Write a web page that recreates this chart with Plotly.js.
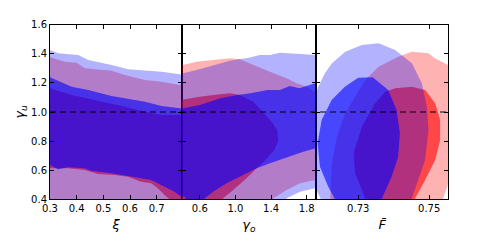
<!DOCTYPE html>
<html>
<head>
<meta charset="utf-8">
<script src="https://cdn.plot.ly/plotly-3.0.1.min.js"></script>
<style>html,body{margin:0;padding:0;background:#fff;}#chart{width:498px;height:249px;}</style>
</head>
<body>
<div id="chart"></div>
<script>
// ---- Panel 1: xi vs gamma_u ----
const p1RedOuterX = [0.28,0.3,0.3562,0.4,0.4311,0.5311,0.5809,0.6558,0.7183,0.7869,0.81,0.81,0.28];
const p1RedOuterY = [1.38,1.376,1.346,1.339,1.30,1.284,1.254,1.22,1.208,1.186,1.18,0.3,0.3];
const p1RedInnerX = [0.28,0.3,0.3813,0.4685,0.5809,0.6558,0.7183,0.7869,0.81,0.81,0.7483,0.7296,0.7045,0.6794,0.6419,0.5921,0.5423,0.4798,0.430,0.3674,0.3,0.28];
const p1RedInnerY = [1.17,1.163,1.117,1.083,1.036,1.002,0.979,0.979,0.979,0.38,0.40,0.43,0.476,0.51,0.521,0.555,0.567,0.574,0.601,0.613,0.613,0.613];
const p1BlueOuterX = [0.28,0.3,0.331,0.406,0.4434,0.5311,0.5933,0.7183,0.7869,0.81,0.81,0.28];
const p1BlueOuterY = [1.43,1.426,1.403,1.392,1.357,1.323,1.293,1.277,1.259,1.252,0.3,0.3];
const p1BlueInnerX = [0.28,0.3,0.3813,0.4434,0.5311,0.6307,0.6558,0.7183,0.7869,0.81,0.81,0.7918,0.767,0.7296,0.6794,0.6419,0.5921,0.5172,0.4547,0.430,0.3674,0.330,0.3,0.28];
const p1BlueInnerY = [1.25,1.238,1.174,1.151,1.11,1.082,1.071,1.041,1.025,1.02,0.40,0.418,0.452,0.487,0.533,0.544,0.56,0.583,0.597,0.613,0.62,0.606,0.636,0.64];

// ---- Panel 2: gamma_o vs gamma_u ----
const p2RedOuterX = [0.35,0.412,0.563,0.75,0.938,1.05,1.2,1.388,1.575,1.688,1.8,1.95,1.95,1.894,1.725,1.575,1.425,1.38,0.35];
const p2RedOuterY = [1.32,1.323,1.346,1.357,1.369,1.362,1.323,1.277,1.232,1.197,1.174,1.12,0.53,0.533,0.51,0.464,0.407,0.35,0.35];
const p2RedInnerX = [0.35,0.412,0.563,0.75,0.938,1.05,1.2,1.29,1.41,1.47,1.48,1.44,1.33,1.238,1.125,0.975,0.862,0.83,0.35];
const p2RedInnerY = [1.08,1.087,1.101,1.117,1.129,1.117,1.071,1.01,0.93,0.875,0.8,0.74,0.665,0.613,0.544,0.464,0.407,0.35,0.35];
const p2BlueOuterX = [0.35,0.412,0.563,0.75,0.938,1.05,1.125,1.275,1.388,1.5,1.688,1.894,1.95,1.95,1.894,1.725,1.575,1.54,0.35];
const p2BlueOuterY = [1.25,1.266,1.289,1.323,1.353,1.365,1.369,1.392,1.392,1.408,1.399,1.392,1.39,0.47,0.476,0.452,0.407,0.35,0.35];
const p2BlueInnerX = [0.35,0.412,0.6,0.83,1.02,1.17,1.36,1.5,1.61,1.72,1.894,1.95,1.95,1.894,1.762,1.613,1.388,1.238,1.05,0.9,0.75,0.656,0.6,0.46,0.43,0.35];
const p2BlueInnerY = [1.02,1.025,1.048,1.094,1.117,1.129,1.151,1.151,1.179,1.163,1.197,1.2,0.75,0.75,0.727,0.693,0.647,0.613,0.555,0.51,0.452,0.407,0.37,0.37,0.418,0.43];

// ---- Panel 3: F-bar vs gamma_u ----
const p3RedOuterX = [0.72634,0.7240,0.72259,0.72211,0.7226,0.753,0.75386,0.75527,0.7564,0.7564,0.75535,0.7516,0.74983,0.74513,0.74127,0.73575,0.73197];
const p3RedOuterY = [0.991,0.830,0.647,0.407,0.29,0.29,0.40,0.498,0.74,1.08,1.323,1.369,1.403,1.414,1.38,1.311,1.22];
const p3RedInnerX = [0.74513,0.74042,0.73761,0.73479,0.73104,0.7287,0.72915,0.73197,0.7339,0.745,0.74606,0.74887,0.75169,0.7531,0.7531,0.75169,0.74887];
const p3RedInnerY = [1.174,1.163,1.14,1.06,0.899,0.716,0.579,0.407,0.29,0.3,0.407,0.533,0.67,0.808,0.945,1.06,1.151];
const p3BlueOuterX = [0.7165,0.71873,0.7206,0.72259,0.72634,0.73104,0.73575,0.74042,0.74513,0.74794,0.74935,0.74983,0.74887,0.74701,0.74513,0.744,0.7333,0.7234,0.7205,0.7185,0.7165,0.716];
const p3BlueOuterY = [1.0,1.174,1.266,1.335,1.414,1.46,1.472,1.426,1.335,1.197,1.036,0.876,0.670,0.534,0.407,0.29,0.26,0.29,0.35,0.45,0.6,0.8];
const p3BlueInnerX = [0.73,0.7341,0.73845,0.74082,0.74175,0.74127,0.73941,0.73659,0.7335,0.7245,0.72344,0.72155,0.71921,0.71856,0.71969,0.72251,0.72625];
const p3BlueInnerY = [1.236,1.238,1.151,1.014,0.854,0.693,0.555,0.40,0.3,0.32,0.40,0.487,0.624,0.785,0.945,1.083,1.174];

// ---- ticks & reference ----
const yTickVals = [0.4,0.6,0.8,1.0,1.2,1.4,1.6];
const yTickText = ['0.4','0.6','0.8','1.0','1.2','1.4','1.6'];
const x1TickVals = [0.3,0.4,0.5,0.6,0.7];
const x1TickText = ['0.3','0.4','0.5','0.6','0.7'];
const x2TickVals = [0.6,1.0,1.4,1.8];
const x2TickText = ['0.6','1.0','1.4','1.8'];
const x3TickVals = [0.73,0.75];
const x3TickText = ['0.73','0.75'];
const refLineY = 1.0;

const RED_OUT = 'rgba(255,0,0,0.3)', RED_IN = 'rgba(255,0,0,0.6)';
const BLUE_OUT = 'rgba(0,0,255,0.3)', BLUE_IN = 'rgba(0,0,255,0.6)';

function poly(x, y, color, xa, ya) {
  return {x: x, y: y, xaxis: xa, yaxis: ya, type: 'scatter', mode: 'lines',
          fill: 'toself', fillcolor: color, line: {width: 0, color: color},
          hoverinfo: 'skip', showlegend: false};
}
const traces = [
  poly(p1RedOuterX, p1RedOuterY, RED_OUT, 'x', 'y'),
  poly(p1RedInnerX, p1RedInnerY, RED_IN, 'x', 'y'),
  poly(p1BlueOuterX, p1BlueOuterY, BLUE_OUT, 'x', 'y'),
  poly(p1BlueInnerX, p1BlueInnerY, BLUE_IN, 'x', 'y'),
  poly(p2RedOuterX, p2RedOuterY, RED_OUT, 'x2', 'y2'),
  poly(p2RedInnerX, p2RedInnerY, RED_IN, 'x2', 'y2'),
  poly(p2BlueOuterX, p2BlueOuterY, BLUE_OUT, 'x2', 'y2'),
  poly(p2BlueInnerX, p2BlueInnerY, BLUE_IN, 'x2', 'y2'),
  poly(p3RedOuterX, p3RedOuterY, RED_OUT, 'x3', 'y3'),
  poly(p3RedInnerX, p3RedInnerY, RED_IN, 'x3', 'y3'),
  poly(p3BlueOuterX, p3BlueOuterY, BLUE_OUT, 'x3', 'y3'),
  poly(p3BlueInnerX, p3BlueInnerY, BLUE_IN, 'x3', 'y3')
];

const W = 498, H = 249;
const yDom = [(H - 199.3) / H, (H - 24.7) / H];
const tickFont = {family: 'DejaVu Sans', size: 10, color: '#000'};
const titleFont = {family: 'DejaVu Sans', size: 13, color: '#000'};
function xax(dom, range, tv, tt, title, anchor) {
  return {domain: dom, range: range, tickvals: tv, ticktext: tt, anchor: anchor,
    ticks: 'inside', ticklen: 4, tickwidth: 1, tickcolor: '#000',
    showline: true, linecolor: '#000', linewidth: 1, mirror: 'ticks',
    showgrid: false, zeroline: false, tickfont: tickFont, fixedrange: true,
    title: {text: title, font: titleFont, standoff: 6}};
}
function yax(anchor, showLabels, title) {
  const ax = {domain: yDom, range: [0.4, 1.6], tickvals: yTickVals, ticktext: yTickText, anchor: anchor,
    ticks: 'inside', ticklen: 4, tickwidth: 1, tickcolor: '#000',
    showline: true, linecolor: '#000', linewidth: 1, mirror: 'ticks',
    showgrid: false, zeroline: false, tickfont: tickFont, showticklabels: showLabels,
    fixedrange: true};
  if (title) ax.title = {text: title, font: titleFont, standoff: 3};
  return ax;
}

const layout = {
  width: W, height: H,
  margin: {l: 0, r: 0, t: 0, b: 0, autoexpand: false},
  paper_bgcolor: '#fff', plot_bgcolor: 'rgba(0,0,0,0)',
  showlegend: false,
  xaxis: xax([50 / W, 182 / W], [0.3, 0.795], x1TickVals, x1TickText, '<i>ξ</i>', 'y'),
  xaxis2: xax([182 / W, 316 / W], [0.4, 1.905], x2TickVals, x2TickText, '<i>γ</i><sub><i>o</i></sub>', 'y2'),
  xaxis3: xax([316 / W, 448.3 / W], [0.7181, 0.7554], x3TickVals, x3TickText, '<i>F\u0304</i>', 'y3'),
  yaxis: yax('x', true, '<i>γ</i><sub><i>u</i></sub>'),
  yaxis2: yax('x2', false, null),
  yaxis3: yax('x3', false, null),
  shapes: [{type: 'line', xref: 'paper', yref: 'y', x0: 50 / W, x1: 448.3 / W, y0: refLineY, y1: refLineY,
            line: {color: 'rgba(0,0,0,0.65)', width: 1.5, dash: '6px,4px'}, layer: 'above'}]
};

Plotly.newPlot('chart', traces, layout, {staticPlot: true, displayModeBar: false});
</script>
</body>
</html>
